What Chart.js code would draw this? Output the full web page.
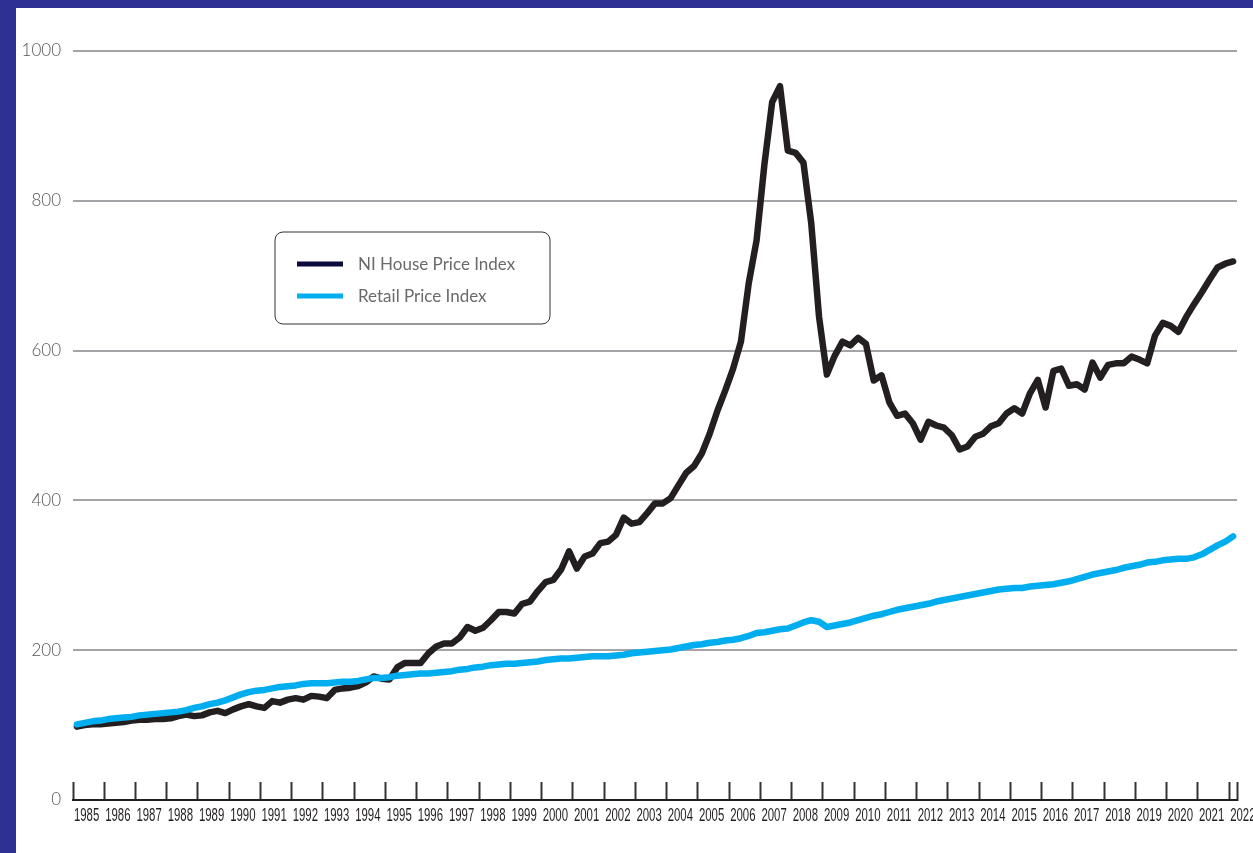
<!DOCTYPE html>
<html>
<head>
<meta charset="utf-8">
<script src="https://cdn.jsdelivr.net/npm/chart.js@4/dist/chart.umd.min.js"></script>
<style>
  html, body { margin: 0; padding: 0; background: #2e3192; }
  #panel { position: absolute; left: 16px; top: 8px; width: 1237px; height: 845px; background: #fff; }
  canvas { display: block; }
</style>
</head>
<body>
<div id="panel"><canvas id="chart" width="1237" height="845"></canvas></div>
<script>
// quarterly index values, 1985 Q1 .. 2022 Q1
const firstYear = 1985;
const lastYear = 2022;
const yTicks = [0, 200, 400, 600, 800, 1000];

const seriesNames = ["NI House Price Index", "Retail Price Index"];

const niHousePrice = [
  98, 100, 101, 101,   102, 103, 104, 106,   107, 107, 108, 108,   109, 112, 114, 112,
  113, 117, 119, 116,  121, 125, 128, 125,   123, 132, 130, 134,   136, 134, 139, 138,
  136, 147, 149, 150,  152, 157, 165, 162,   161, 177, 183, 183,   183, 196, 205, 209,
  209, 217, 231, 226,  230, 240, 251, 251,   249, 262, 265, 279,   291, 294, 308, 332,
  309, 325, 329, 343,  345, 354, 377, 369,   371, 383, 396, 396,   403, 420, 437, 446,
  463, 489, 520, 547,  576, 612, 690, 747,   848, 932, 953, 867,   864, 851, 770, 645,
  568, 593, 612, 607,  617, 609, 560, 567,   531, 513, 516, 503,   481, 505, 500, 497,
  487, 468, 472, 485,  489, 499, 503, 516,   523, 516, 543, 561,   524, 573, 576, 553,
  555, 548, 584, 564,  581, 583, 583, 592,   588, 583, 620, 637,   633, 625, 645, 662,
  678, 695, 711, 716,  719
];

const retailPrice = [
  101, 103, 105, 106,  108, 109, 110, 111,   113, 114, 115, 116,   117, 118, 120, 123,
  125, 128, 130, 133,  137, 141, 144, 146,   147, 149, 151, 152,   153, 155, 156, 156,
  156, 157, 158, 158,  159, 161, 163, 163,   164, 166, 167, 168,   169, 169, 170, 171,
  172, 174, 175, 177,  178, 180, 181, 182,   182, 183, 184, 185,   187, 188, 189, 189,
  190, 191, 192, 192,  192, 193, 194, 196,   197, 198, 199, 200,   201, 203, 205, 207,
  208, 210, 211, 213,  214, 216, 219, 223,   224, 226, 228, 229,   233, 237, 240, 238,
  231, 233, 235, 237,  240, 243, 246, 248,   251, 254, 256, 258,   260, 262, 265, 267,
  269, 271, 273, 275,  277, 279, 281, 282,   283, 283, 285, 286,   287, 288, 290, 292,
  295, 298, 301, 303,  305, 307, 310, 312,   314, 317, 318, 320,   321, 322, 322, 324,
  328, 334, 340, 345,  352
];

const lineColors = ["#231f20", "#00aeef"];
const legendColors = ["#0b0b3b", "#00aeef"];

// each quarter sits in the middle of its quarter-year slot
const xMax = lastYear + 0.25;
function toPoints(values) {
  return values.map((v, i) => ({ x: firstYear + (i + 0.5) / 4, y: v }));
}
const yearTicks = [];
for (let y = firstYear; y <= lastYear; y++) yearTicks.push({ value: y });
yearTicks.push({ value: xMax });

// year labels sit between the tick marks, in a squeezed (condensed looking) face
const yearLabels = {
  id: 'yearLabels',
  afterDraw(chart) {
    const xs = chart.scales.x;
    const ctx = chart.ctx;
    const half = (xs.getPixelForValue(firstYear + 1) - xs.getPixelForValue(firstYear)) / 2;
    ctx.save();
    ctx.font = '19px "Liberation Sans", Arial, sans-serif';
    ctx.fillStyle = '#231f20';
    ctx.textAlign = 'center';
    ctx.textBaseline = 'middle';
    xs.ticks.forEach(t => {
      if (!Number.isInteger(t.value)) return;
      ctx.save();
      ctx.translate(xs.getPixelForValue(t.value) + half - 2, xs.top + 16);
      ctx.scale(0.6, 1);
      ctx.fillText(String(t.value), 0, 0);
      ctx.restore();
    });
    ctx.restore();
  }
};

const boxLegend = {
  id: 'boxLegend',
  afterDraw(chart) {
    const ctx = chart.ctx;
    const a = chart.chartArea;
    const x = a.left + 202, y = a.top + 181, w = 275, h = 92, r = 8;
    ctx.save();
    ctx.beginPath();
    ctx.moveTo(x + r, y);
    ctx.arcTo(x + w, y, x + w, y + h, r);
    ctx.arcTo(x + w, y + h, x, y + h, r);
    ctx.arcTo(x, y + h, x, y, r);
    ctx.arcTo(x, y, x + w, y, r);
    ctx.closePath();
    ctx.fillStyle = '#fff';
    ctx.fill();
    ctx.strokeStyle = '#333';
    ctx.lineWidth = 1;
    ctx.stroke();
    seriesNames.forEach((name, i) => {
      const ly = y + 32 + i * 32;
      ctx.beginPath();
      ctx.strokeStyle = legendColors[i];
      ctx.lineWidth = 5;
      ctx.moveTo(x + 22, ly);
      ctx.lineTo(x + 68, ly);
      ctx.stroke();
      ctx.fillStyle = '#6a6a6a';
      ctx.font = '400 17px Lato, "Open Sans", sans-serif';
      ctx.textBaseline = 'middle';
      ctx.fillText(name, x + 83, ly + 1);
    });
    ctx.restore();
  }
};

new Chart(document.getElementById('chart'), {
  type: 'line',
  data: {
    datasets: [
      {
        label: seriesNames[0],
        data: toPoints(niHousePrice),
        borderColor: lineColors[0],
        borderWidth: 6.5,
        order: 1
      },
      {
        label: seriesNames[1],
        data: toPoints(retailPrice),
        borderColor: lineColors[1],
        borderWidth: 6.5,
        order: 0
      }
    ]
  },
  options: {
    responsive: false,
    animation: false,
    layout: { padding: { top: 43, right: 16, left: 0, bottom: 0 } },
    elements: {
      point: { radius: 0 },
      line: { tension: 0, borderJoinStyle: 'round', borderCapStyle: 'round', fill: false }
    },
    plugins: {
      legend: { display: false },
      tooltip: { enabled: false }
    },
    scales: {
      x: {
        type: 'linear',
        min: firstYear,
        max: xMax,
        afterBuildTicks: function (scale) { scale.ticks = yearTicks.map(t => ({ value: t.value })); },
        afterFit: function (scale) {
          scale.height = 53;
          scale.paddingLeft = 0;
          scale.paddingRight = 0;
        },
        grid: {
          drawOnChartArea: false,
          drawTicks: true,
          tickLength: -18,
          tickColor: '#333',
          tickWidth: 2
        },
        border: { display: true, color: '#231f20', width: 2 },
        ticks: { display: false, autoSkip: false, maxRotation: 0 }
      },
      y: {
        min: yTicks[0],
        max: yTicks[yTicks.length - 1],
        afterBuildTicks: function (scale) { scale.ticks = yTicks.map(v => ({ value: v })); },
        afterFit: function (scale) { scale.width = 57; },
        border: { display: false },
        grid: {
          drawTicks: false,
          lineWidth: 2,
          color: function (c) { return c.tick && c.tick.value === 0 ? 'rgba(0,0,0,0)' : '#a3a3a8'; }
        },
        ticks: {
          padding: 12,
          color: '#555',
          font: { family: 'Lato, "Open Sans", sans-serif', size: 17, weight: '300' },
          callback: function (value) { return String(value); }
        }
      }
    }
  },
  plugins: [boxLegend, yearLabels]
});
</script>
</body>
</html>
